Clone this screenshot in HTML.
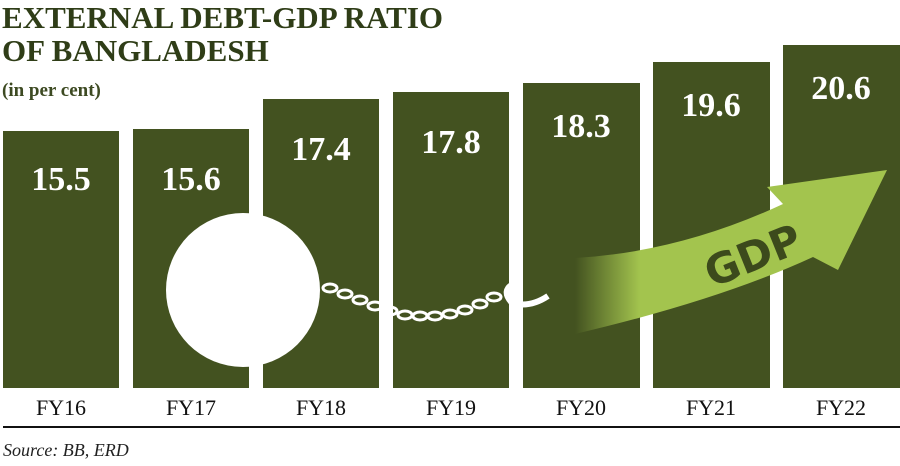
<!DOCTYPE html>
<html><head><style>
body{margin:0;background:#fff;}
svg{display:block;}
</style></head><body>
<svg width="900" height="466" viewBox="0 0 900 466" xmlns="http://www.w3.org/2000/svg">
<defs>
<linearGradient id="g" x1="575" y1="0" x2="640" y2="0" gradientUnits="userSpaceOnUse">
<stop offset="0" stop-color="#a3c44e" stop-opacity="0"/>
<stop offset="1" stop-color="#a3c44e" stop-opacity="1"/>
</linearGradient>
</defs>
<g font-family="Liberation Serif, serif" font-weight="bold" fill="#2f3d17">
<text x="2" y="28" font-size="31">EXTERNAL DEBT-GDP RATIO</text>
<text x="2" y="61" font-size="31">OF BANGLADESH</text>
<text x="2" y="96" font-size="19" fill="#3d4a22">(in per cent)</text>
</g>
<g fill="#435220">
<rect x="3" y="131" width="116" height="257"/>
<rect x="133" y="129" width="116" height="259"/>
<rect x="263" y="99" width="116" height="289"/>
<rect x="393" y="92" width="116" height="296"/>
<rect x="523" y="83" width="117" height="305"/>
<rect x="653" y="62" width="117" height="326"/>
<rect x="783" y="45" width="117" height="343"/>
</g>
<g font-family="Liberation Serif, serif" font-weight="bold" fill="#fff" font-size="34" text-anchor="middle">
<text x="61" y="190">15.5</text>
<text x="191" y="190">15.6</text>
<text x="321" y="160">17.4</text>
<text x="451" y="153">17.8</text>
<text x="581" y="137">18.3</text>
<text x="711" y="116">19.6</text>
<text x="841" y="99">20.6</text>
</g>
<!-- ball and chain -->
<circle cx="243" cy="290" r="77" fill="#fff"/>
<g fill="none" stroke="#fff" stroke-width="3">
<ellipse cx="330" cy="288" rx="7" ry="4"/>
<ellipse cx="345" cy="294" rx="7" ry="4"/>
<ellipse cx="360" cy="300" rx="7" ry="4"/>
<ellipse cx="375" cy="306" rx="7" ry="4"/>
<ellipse cx="390" cy="311" rx="7" ry="4"/>
<ellipse cx="405" cy="315" rx="7" ry="4"/>
<ellipse cx="420" cy="316" rx="7" ry="4"/>
<ellipse cx="435" cy="316" rx="7" ry="4"/>
<ellipse cx="450" cy="314" rx="7" ry="4"/>
<ellipse cx="465" cy="310" rx="7" ry="4"/>
<ellipse cx="480" cy="304" rx="7" ry="4"/>
<ellipse cx="494" cy="297" rx="7" ry="4"/>
<path d="M515 283 Q500 290 512 303 Q530 308 548 296" stroke-width="6"/>
</g>
<!-- GDP arrow -->
<path d="M575 258 Q680 252 783 204 L767 187 L887 170 L838 270 L813 257 Q720 300 575 334 Z" fill="url(#g)"/>
<text x="0" y="0" font-family="DejaVu Sans, sans-serif" font-weight="bold" font-size="42" fill="#3c4a1c" transform="translate(712 288) rotate(-22)">GDP</text>
<g font-family="Liberation Serif, serif" font-size="22" fill="#111" text-anchor="middle">
<text x="61" y="415">FY16</text>
<text x="191" y="415">FY17</text>
<text x="321" y="415">FY18</text>
<text x="451" y="415">FY19</text>
<text x="581" y="415">FY20</text>
<text x="711" y="415">FY21</text>
<text x="841" y="415">FY22</text>
</g>
<rect x="3" y="426" width="897" height="2" fill="#111"/>
<text x="3" y="456" font-family="Liberation Serif, serif" font-style="italic" font-size="18" fill="#222">Source: BB, ERD</text>
</svg>
</body></html>
